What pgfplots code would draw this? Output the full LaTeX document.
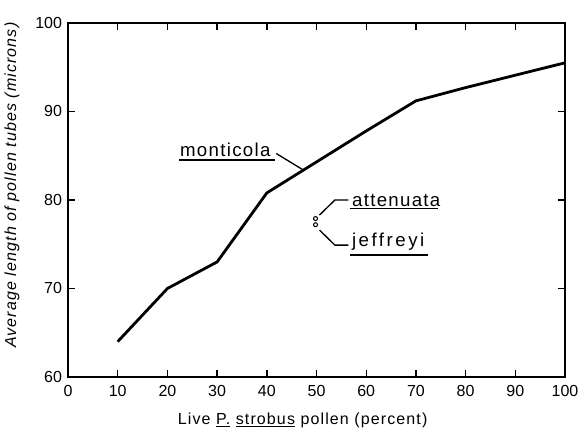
\documentclass[border=0pt]{standalone}
\usepackage{fontspec}
\setmainfont{Liberation Sans}
\newfontfamily\lab[LetterSpace=7]{Liberation Sans}
\newfontfamily\ann[LetterSpace=7]{Liberation Sans}
\newfontfamily\annw[LetterSpace=13.5]{Liberation Sans}
\usepackage{pgfplots}
\pgfplotsset{compat=1.18}
\begin{document}
\begin{tikzpicture}
\begin{axis}[
  scale only axis,
  width=372.75pt, height=265.5pt,
  xmin=0, xmax=100, ymin=60, ymax=100,
  xtick={0,10,...,100}, ytick={60,70,80,90,100},
  tick pos=both, tick align=inside,
  xticklabel pos=bottom, yticklabel pos=left,
  major tick length=5.5pt,
  axis line style={line width=1.3pt},
  every tick/.style={black, line width=1pt},
  /pgf/number format/assume math mode=true,
  tick label style={font=\fontsize{12}{14}\selectfont},
  xticklabel style={yshift=-3pt},
  yticklabel style={xshift=-1pt},
  xlabel={\lab\fontsize{12}{14}\selectfont Live \underline{P.}\ \underline{strobus} pollen (percent)},
  xlabel style={at={(axis description cs:0.472,-0.133)}, anchor=base},
  ylabel={\lab\itshape\fontsize{12}{14}\selectfont Average length of pollen tubes (microns)},
  ylabel style={at={(axis description cs:-0.113,0.542)}, anchor=center, rotate=0},
  clip=false,
]
\addplot[black, line width=2.1pt, line join=round] coordinates {
  (10,64.0) (20,70.0) (30,73.0) (40,80.8) (50,84.3) (60,87.8) (70,91.2) (80,92.7) (90,94.1) (100,95.5)
};
\addplot[only marks, mark=o, mark size=1.5pt, mark options={line width=0.8pt}] coordinates {
  (49.8,77.9) (49.8,77.2)
};
% labels
\node[anchor=base west, inner sep=0pt, font=\ann\fontsize{14}{16}\selectfont] at (axis cs:22.5,84.86) {monticola};
\draw[line width=1pt] (axis cs:22.3,84.5) -- (axis cs:41.6,84.5);
\draw[line width=1pt] (axis cs:41.9,85.25) -- (axis cs:47.3,83.4);
\node[anchor=base west, inner sep=0pt, font=\ann\fontsize{14}{16}\selectfont] at (axis cs:57.1,79.3) {attenuata};
\draw[line width=1pt] (axis cs:56.7,79.0) -- (axis cs:74.4,79.0);
\draw[line width=1pt] (axis cs:50.6,78.3) -- (axis cs:53.7,80.0) -- (axis cs:56.4,80.0);
\node[anchor=base west, inner sep=0pt, font=\annw\fontsize{14}{16}\selectfont] at (axis cs:57.1,74.7) {jeffreyi};
\draw[line width=1pt] (axis cs:56.7,73.8) -- (axis cs:72.5,73.8);
\draw[line width=1pt] (axis cs:50.6,76.6) -- (axis cs:53.7,74.9) -- (axis cs:56.4,74.9);
\end{axis}
\path[use as bounding box] ([xshift=-51pt,yshift=-44.25pt]current axis.south west) rectangle ([xshift=14.25pt,yshift=17.25pt]current axis.north east);
\end{tikzpicture}
\end{document}
